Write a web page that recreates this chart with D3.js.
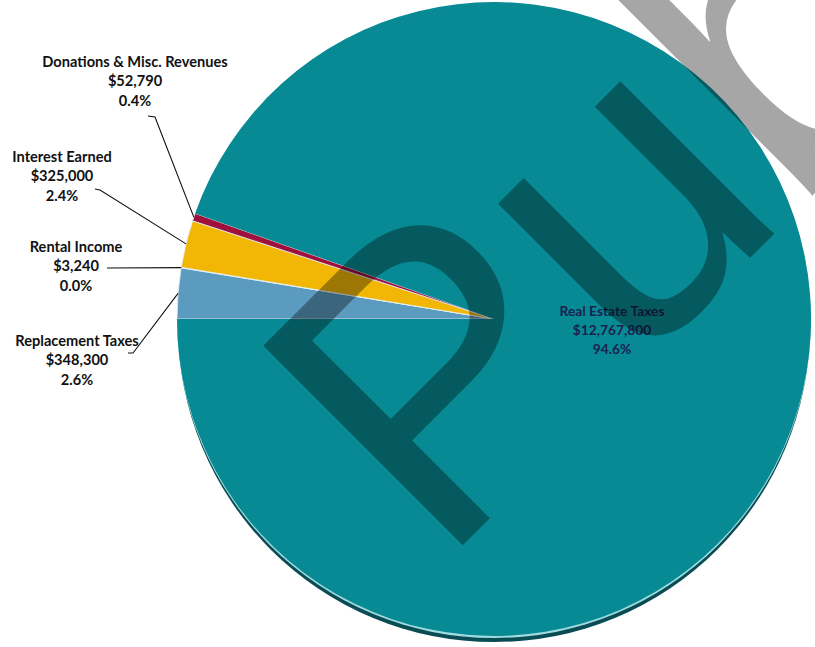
<!DOCTYPE html>
<html>
<head>
<meta charset="utf-8">
<script src="https://cdn.jsdelivr.net/npm/d3@7"></script>
<style>
  html, body { margin: 0; padding: 0; background: #ffffff; }
  svg { display: block; }
</style>
</head>
<body>
<div id="chart"></div>
<script>
// ---- data ----
const categories = ["Replacement Taxes", "Rental Income", "Interest Earned", "Donations & Misc. Revenues", "Real Estate Taxes"];
const values = [348300, 3240, 325000, 52790, 12767800];
const sliceColors = ["#5b9bc0", "#8fb8cf", "#f2b705", "#a0103c", "#078a93"];

// ---- layout ----
const W = 815, H = 647;
const cx = 494, cy = 319, R = 317;

const svg = d3.select("#chart").append("svg").attr("width", W).attr("height", H);
svg.append("rect").attr("width", W).attr("height", H).attr("fill", "#ffffff");

const total = d3.sum(values);
const fmtMoney = d3.format("$,");
const fmtPct = d3.format(".1%");

const pie = d3.pie().sort(null).value(d => d.value)
  .startAngle(-Math.PI / 2).endAngle(3 * Math.PI / 2);
const data = categories.map((c, i) => ({ name: c, value: values[i], color: sliceColors[i] }));
const arcs = pie(data);
const arc = d3.arc().innerRadius(0).outerRadius(R);

const g = svg.append("g").attr("transform", `translate(${cx},${cy})`);

// 3D rim / shadow
g.append("circle").attr("cx", 0).attr("cy", 7).attr("r", R - 1).attr("fill", "#0a4c54");
g.append("circle").attr("cx", 0).attr("cy", 2).attr("r", R).attr("fill", "#9fdbe0");

g.selectAll("path.slice").data(arcs).enter().append("path")
  .attr("class", "slice")
  .attr("d", arc)
  .attr("fill", d => d.data.color)
  .attr("stroke", d => d.index === arcs.length - 1 ? "none" : "#e6f3f6")
  .attr("stroke-width", 0.8);

// labels (outside ones with leader lines)
const labelLayout = {
  "Donations & Misc. Revenues": { x: 135, y: 62, line: [[148, 116], [155, 117]] },
  "Interest Earned": { x: 62, y: 157, line: [[95, 189], [100, 190]] },
  "Rental Income": { x: 76, y: 247, line: [[107, 268]] },
  "Replacement Taxes": { x: 77, y: 341, line: [[128, 353], [133, 353]] },
  "Real Estate Taxes": { x: 612, y: 311, inside: true }
};

const lineStep = 19.2;
arcs.forEach(a => {
  const L = labelLayout[a.data.name];
  const lines = [a.data.name, fmtMoney(a.data.value), fmtPct(a.data.value / total)];
  const t = svg.append("text")
    .attr("text-anchor", "middle")
    .attr("font-family", "Lato, 'Open Sans', sans-serif")
    .attr("font-weight", "bold")
    .attr("font-size", L.inside ? 13.8 : 14.6)
    .attr("fill", L.inside ? "#1b2150" : "#111111");
  lines.forEach((s, i) => {
    t.append("tspan").attr("x", L.x).attr("y", L.y + i * lineStep).attr("dy", "0.35em").text(s);
  });
  if (!L.inside) {
    const mid = (a.startAngle + a.endAngle) / 2;
    const ex = cx + Math.sin(mid) * R, ey = cy - Math.cos(mid) * R;
    const pts = L.line.concat([[ex, ey]]);
    svg.append("path")
      .attr("d", d3.line()(pts))
      .attr("fill", "none")
      .attr("stroke", "#111111")
      .attr("stroke-width", 1.1);
  }
});

// watermark
svg.append("text")
  .attr("transform", "translate(439,569) rotate(-45)")
  .attr("font-family", "'Liberation Sans', Arial, sans-serif")
  .attr("font-size", 410)
  .attr("fill", "rgba(0,0,0,0.35)")
  .text("Pub");
</script>
</body>
</html>
